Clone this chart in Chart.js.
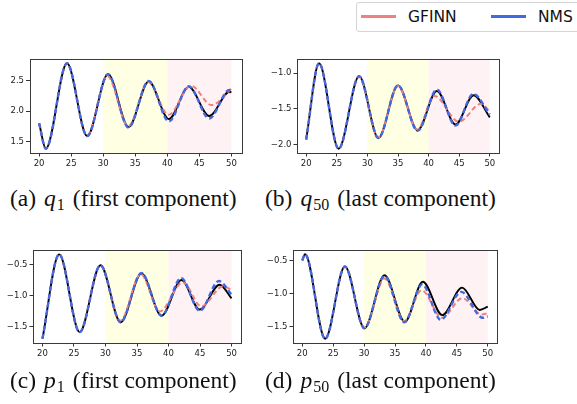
<!DOCTYPE html>
<html>
<head>
<meta charset="utf-8">
<script src="https://cdn.jsdelivr.net/npm/chart.js@4.4.1/dist/chart.umd.min.js"></script>
<style>
  body { margin: 0; background: #fff; width: 577px; height: 404px; position: relative; overflow: hidden; }
  canvas { position: absolute; }
  .cap { position: absolute; font-family: "Liberation Serif", serif; font-size: 23.5px; white-space: nowrap; color: #111; }
  .cap i { font-style: italic; }
  .cap sub { font-size: 16px; vertical-align: -4px; line-height: 0; margin-left: 1px; }
  .cap .g { margin-left: 8px; }
  .legend { position: absolute; left: 356px; top: 2px; width: 235px; height: 28px; border: 1px solid #d4d4d4; border-radius: 3px;
            font-family: "DejaVu Sans", sans-serif; font-size: 15.5px; color: #111; }
  .legend span { position: absolute; top: 5px; }
  .legend b { position: absolute; top: 12px; height: 2.5px; width: 35px; }
</style>
</head>
<body>
<canvas id="pa" width="250" height="140" style="left:0;top:45px"></canvas>
<canvas id="pb" width="255" height="140" style="left:255px;top:45px"></canvas>
<canvas id="pc" width="250" height="140" style="left:0;top:236px"></canvas>
<canvas id="pd" width="255" height="140" style="left:255px;top:236px"></canvas>

<div class="legend">
  <b style="left:4px;background:#f08080"></b><span style="left:51px">GFINN</span>
  <b style="left:134px;background:#4169e1"></b><span style="left:181px">NMS</span>
</div>

<div class="cap" style="left:10px;top:185px">(a)<span class="g"><i>q</i><sub>1</sub></span><span class="g">(first component)</span></div>
<div class="cap" style="left:265px;top:185px">(b)<span class="g"><i>q</i><sub>50</sub></span><span class="g">(last component)</span></div>
<div class="cap" style="left:10px;top:367px">(c)<span class="g"><i>p</i><sub>1</sub></span><span class="g">(first component)</span></div>
<div class="cap" style="left:265px;top:367px">(d)<span class="g"><i>p</i><sub>50</sub></span><span class="g">(last component)</span></div>

<script>
// time ticks and shaded windows
const xTicks = [20, 25, 30, 35, 40, 45, 50];
const bands = [[30, 40, 'rgba(255,255,0,0.11)'], [40, 50, 'rgba(255,192,203,0.2)']];

// (a) q1 : [t, value]
const q1Truth = [[20,1.80],[21.05,1.38],[24.35,2.79],[27.5,1.59],[30.75,2.61],[33.95,1.74],[37.1,2.49],[40.25,1.87],[43.35,2.40],[46.55,1.92],[49.7,2.32],[50,2.31]];
const q1Gfinn = [[20,1.80],[21.05,1.38],[24.35,2.79],[27.5,1.60],[30.65,2.58],[33.9,1.75],[37.05,2.48],[40.2,1.94],[43.7,2.42],[46.9,2.10],[50,2.37]];
const q1Nms   = [[20,1.80],[21.05,1.38],[24.35,2.79],[27.5,1.59],[30.75,2.61],[33.95,1.73],[37.1,2.50],[40.25,1.83],[43.35,2.41],[46.55,1.88],[49.7,2.35],[50,2.34]];
const q1Ticks = [1.5, 2.0, 2.5];

// (b) q50
const q50Truth = [[20,-1.93],[22.1,-0.86],[25.3,-2.06],[28.65,-1.04],[31.8,-1.91],[35.0,-1.17],[38.2,-1.80],[41.35,-1.25],[44.4,-1.72],[47.35,-1.31],[50,-1.62]];
const q50Gfinn = [[20,-1.93],[22.1,-0.86],[25.3,-2.06],[28.6,-1.05],[31.8,-1.90],[35.0,-1.18],[38.15,-1.79],[40.95,-1.32],[44.95,-1.68],[48.55,-1.43],[50,-1.54]];
const q50Nms   = [[20,-1.93],[22.1,-0.86],[25.3,-2.06],[28.65,-1.04],[31.8,-1.91],[35.0,-1.17],[38.2,-1.81],[41.35,-1.23],[44.4,-1.735],[47.3,-1.29],[50,-1.58]];
const q50Ticks = [-2.0, -1.5, -1.0];

// (c) p1
const p1Truth = [[20,-1.69],[22.65,-0.33],[25.9,-1.585],[29.2,-0.505],[32.4,-1.425],[35.7,-0.64],[38.9,-1.32],[42.05,-0.745],[44.95,-1.22],[48.1,-0.82],[50,-1.04]];
const p1Gfinn = [[20,-1.69],[22.65,-0.33],[25.9,-1.585],[29.2,-0.51],[32.35,-1.40],[35.6,-0.65],[38.6,-1.25],[42.3,-0.78],[45.2,-1.17],[48.6,-0.85],[50,-0.90]];
const p1Nms   = [[20,-1.69],[22.65,-0.33],[25.9,-1.585],[29.2,-0.505],[32.4,-1.425],[35.7,-0.63],[38.9,-1.32],[42.0,-0.71],[44.95,-1.24],[48.0,-0.76],[50,-0.98]];
const p1Ticks = [-1.5, -1.0, -0.5];

// (d) p50
const p50Truth = [[20,-0.495],[20.45,-0.40],[23.7,-1.69],[26.9,-0.585],[30.05,-1.53],[33.3,-0.72],[36.6,-1.43],[39.5,-0.82],[42.65,-1.33],[45.85,-0.91],[48.7,-1.25],[50,-1.20]];
const p50Gfinn = [[20,-0.495],[20.45,-0.40],[23.7,-1.69],[26.9,-0.59],[30.05,-1.52],[33.3,-0.77],[36.5,-1.42],[39.3,-0.95],[42.6,-1.37],[45.9,-1.07],[49.0,-1.32],[50,-1.30]];
const p50Nms   = [[20,-0.495],[20.45,-0.40],[23.7,-1.69],[26.9,-0.585],[30.05,-1.53],[33.3,-0.73],[36.5,-1.44],[39.4,-0.86],[42.4,-1.40],[45.7,-0.975],[49.2,-1.37],[50,-1.35]];
const p50Ticks = [-1.5, -1.0, -0.5];

const toXY = arr => arr.map(p => ({ x: p[0], y: p[1] }));

const boxPlugin = {
  id: 'box',
  beforeDatasetsDraw(chart) {
    const { ctx, chartArea: a, scales: { x } } = chart;
    ctx.save();
    bands.forEach(b => {
      const x0 = x.getPixelForValue(b[0]), x1 = x.getPixelForValue(b[1]);
      ctx.fillStyle = b[2];
      ctx.fillRect(x0, a.top, x1 - x0, a.bottom - a.top);
    });
    ctx.restore();
  },
  afterDraw(chart) {
    const { ctx, chartArea: a } = chart;
    ctx.save();
    ctx.strokeStyle = '#3a3a3a';
    ctx.lineWidth = 1;
    ctx.strokeRect(Math.round(a.left) + 0.5, Math.round(a.top) + 0.5, Math.round(a.right - a.left), Math.round(a.bottom - a.top));
    ctx.restore();
  }
};

function panel(id, truth, gfinn, nms, yTicks, yMin, yMax, g) {
  const tickFont = { family: 'DejaVu Sans', size: 8.5 };
  new Chart(document.getElementById(id), {
    type: 'line',
    data: {
      datasets: [
        { data: toXY(truth), borderColor: '#000', borderWidth: 1.9, order: 3 },
        { data: toXY(gfinn), borderColor: '#f08080', borderWidth: 2, borderDash: [5, 3], order: 2 },
        { data: toXY(nms), borderColor: '#4169e1', borderWidth: 2.4, borderDash: [5, 3], order: 1 }
      ]
    },
    options: {
      responsive: false,
      animation: false,
      parsing: false,
      cubicInterpolationMode: 'monotone',
      elements: { point: { radius: 0 } },
      layout: { padding: { top: g.top, right: g.right, left: 0, bottom: 0 } },
      plugins: { legend: { display: false }, tooltip: { enabled: false } },
      scales: {
        x: {
          type: 'linear', min: 18.5, max: 51.5,
          afterBuildTicks: s => { s.ticks = xTicks.map(v => ({ value: v })); },
          afterFit: s => { s.height = g.xH; },
          grid: { drawOnChartArea: false, tickLength: 3.5, tickColor: '#333' },
          border: { display: false },
          ticks: { font: tickFont, color: '#222', padding: 2, maxRotation: 0 }
        },
        y: {
          min: yMin, max: yMax,
          afterBuildTicks: s => { s.ticks = yTicks.map(v => ({ value: v })); },
          afterFit: s => { s.width = g.yW; },
          grid: { drawOnChartArea: false, tickLength: 3.5, tickColor: '#333' },
          border: { display: false },
          ticks: { font: tickFont, color: '#222', padding: 2,
                   callback: v => v.toFixed(1).replace('-', '\u2212') }
        }
      }
    },
    plugins: [boxPlugin]
  });
}

panel('pa', q1Truth, q1Gfinn, q1Nms, q1Ticks, 1.31, 2.86, { top: 14, right: 9, yW: 29.5, xH: 32 });
panel('pb', q50Truth, q50Gfinn, q50Nms, q50Ticks, -2.12, -0.80, { top: 14, right: 11, yW: 42, xH: 32 });
panel('pc', p1Truth, p1Gfinn, p1Nms, p1Ticks, -1.76, -0.26, { top: 14, right: 9, yW: 33, xH: 33 });
panel('pd', p50Truth, p50Gfinn, p50Nms, p50Ticks, -1.755, -0.335, { top: 14, right: 13, yW: 38, xH: 33 });
</script>
</body>
</html>
